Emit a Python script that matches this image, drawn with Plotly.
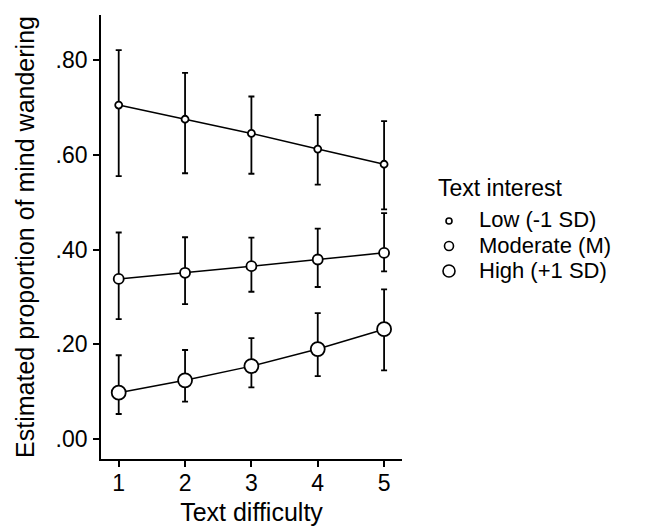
import plotly.graph_objects as go

difficulty = [1, 2, 3, 4, 5]
series_names = ["Low (-1 SD)", "Moderate (M)", "High (+1 SD)"]
legend_title = "Text interest"

low_est = [0.705, 0.675, 0.645, 0.612, 0.580]
low_upper = [0.821, 0.773, 0.723, 0.684, 0.671]
low_lower = [0.555, 0.561, 0.560, 0.537, 0.485]

mod_est = [0.338, 0.351, 0.365, 0.379, 0.393]
mod_upper = [0.436, 0.426, 0.425, 0.444, 0.477]
mod_lower = [0.253, 0.285, 0.311, 0.321, 0.354]

high_est = [0.098, 0.124, 0.154, 0.190, 0.232]
high_upper = [0.177, 0.188, 0.213, 0.266, 0.316]
high_lower = [0.053, 0.079, 0.109, 0.133, 0.145]

y_tickvals = [0.0, 0.2, 0.4, 0.6, 0.8]
y_ticktext = [".00", ".20", ".40", ".60", ".80"]

FONT = "Arial, Liberation Sans, sans-serif"

# The page body has an 8px default margin, so the figure is drawn 8px smaller
# and all window-pixel positions are shifted by that offset.
OFF = 8
W, H = 646 - OFF, 528 - OFF
ML, MT = 101 - OFF, 15 - OFF
PR, PB = 402 - OFF, 459 - OFF
MR, MB = W - PR, H - PB
PW, PH = PR - ML, PB - MT


def px_x(p):
    return (p - OFF - ML) / PW


def px_y(p):
    return (PB - (p - OFF)) / PH


fig = go.Figure()
marker_sizes = [7, 10, 14]
legend_sizes = [6, 9, 12]
for name, est, up, lo, ms in zip(
    series_names,
    [low_est, mod_est, high_est],
    [low_upper, mod_upper, high_upper],
    [low_lower, mod_lower, high_lower],
    marker_sizes,
):
    fig.add_trace(go.Scatter(
        x=difficulty, y=est, name=name, mode="lines+markers", showlegend=False,
        line=dict(color="black", width=1.5),
        marker=dict(size=ms, color="white", line=dict(color="black", width=1.8)),
        error_y=dict(type="data", symmetric=False,
                     array=[u - e for u, e in zip(up, est)],
                     arrayminus=[e - l for e, l in zip(est, lo)],
                     color="black", thickness=1.8, width=3),
    ))

# Legend (drawn by hand to match the compact spacing of the original)
annotations = [dict(
    text=legend_title, xref="paper", yref="paper", x=px_x(437), y=px_y(188),
    xanchor="left", yanchor="middle", showarrow=False, borderpad=0,
    font=dict(family=FONT, size=23, color="black"),
)]
shapes = []
row_centres = [220, 245, 270]
for name, rc, ls in zip(series_names, row_centres, legend_sizes):
    annotations.append(dict(
        text=name, xref="paper", yref="paper", x=px_x(478), y=px_y(rc),
        xanchor="left", yanchor="middle", showarrow=False, borderpad=0,
        font=dict(family=FONT, size=22, color="black"),
    ))
    r = ls / 2
    shapes.append(dict(
        type="circle", xref="paper", yref="paper",
        xsizemode="pixel", ysizemode="pixel",
        xanchor=px_x(449), yanchor=px_y(rc + 1),
        x0=-r, x1=r, y0=-r, y1=r,
        line=dict(color="black", width=1.6), fillcolor="white",
    ))

fig.update_layout(
    width=W, height=H,
    margin=dict(l=ML, r=MR, t=MT, b=MB, autoexpand=False),
    paper_bgcolor="white", plot_bgcolor="white",
    font=dict(family=FONT, size=23, color="black"),
    showlegend=False,
    annotations=annotations,
    shapes=shapes,
    xaxis=dict(
        range=[0.733, 5.27], tickvals=difficulty, ticks="outside", ticklen=6,
        tickwidth=1.5, tickcolor="black", showline=True, linecolor="black",
        linewidth=1.8, showgrid=False, zeroline=False, automargin=False,
        ticklabelstandoff=-4,
        title=dict(text="Text difficulty", font=dict(size=25), standoff=9),
        tickfont=dict(size=23),
    ),
    yaxis=dict(
        range=[-0.042, 0.895], tickvals=y_tickvals, ticktext=y_ticktext,
        ticks="outside", ticklen=6, tickwidth=1.5, tickcolor="black",
        showline=True, linecolor="black", linewidth=1.8, showgrid=False,
        zeroline=False, automargin=False, ticklabelstandoff=1,
        title=dict(text="Estimated proportion of mind wandering", font=dict(size=25), standoff=14),
        tickfont=dict(size=23),
    ),
)

fig.write_html("out.html")
